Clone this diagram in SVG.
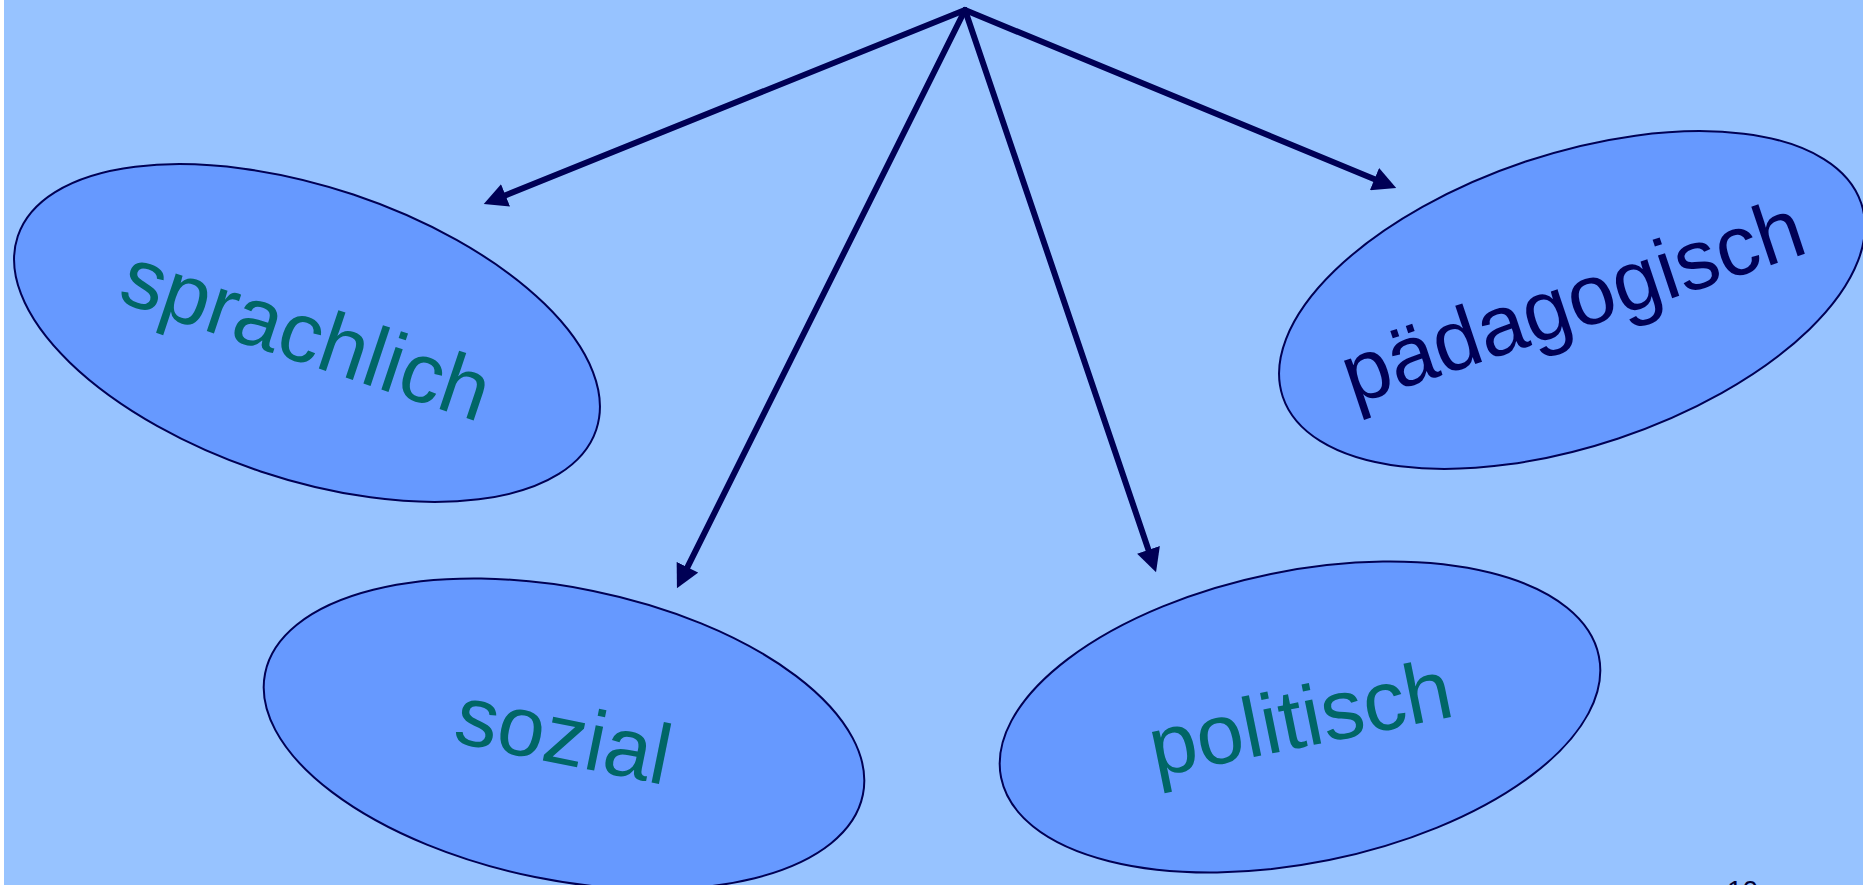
<svg xmlns="http://www.w3.org/2000/svg" width="1863" height="885" viewBox="0 0 1863 885">
  <style>
    .bg { fill: #97C3FF; }
    .node ellipse { fill: #6699FF; stroke: #000055; stroke-width: 2; }
    .node text { font-family: "Liberation Sans", Arial, sans-serif; font-size: 85px; text-anchor: middle; fill: #006666; }
    .node text.dark { fill: #000055; }
    .conn line { stroke: #000055; stroke-width: 6; stroke-linecap: round; marker-end: url(#arrow); }
    .pg { font-family: "Liberation Sans", Arial, sans-serif; font-size: 28px; fill: #000033; }
  </style>
  <defs>
    <marker id="arrow" markerUnits="userSpaceOnUse" markerWidth="24" markerHeight="24" viewBox="0 0 23 23.5" refX="11" refY="11.75" orient="auto">
      <path d="M0,0 L23,11.75 L0,23.5 z" fill="#000055"/>
    </marker>
  </defs>
  <rect x="0" y="0" width="1863" height="885" fill="#FFFFFF"/>
  <rect class="bg" x="4" y="0" width="1859" height="885"/>

  <g id="node-sprachlich" class="node" transform="translate(307,333) rotate(18.5)">
    <ellipse cx="0" cy="0" rx="305" ry="146"/>
    <text x="0" y="30">sprachlich</text>
  </g>
  <g id="node-sozial" class="node" transform="translate(564,734) rotate(11.5)">
    <ellipse cx="0" cy="0" rx="305" ry="146"/>
    <text x="0" y="30">sozial</text>
  </g>
  <g id="node-politisch" class="node" transform="translate(1300,717) rotate(-11.5)">
    <ellipse cx="0" cy="0" rx="305" ry="146"/>
    <text x="0" y="30">politisch</text>
  </g>
  <g id="node-paedagogisch" class="node" transform="translate(1572,300) rotate(-18.5)">
    <ellipse cx="0" cy="0" rx="305" ry="146"/>
    <text class="dark" x="0" y="30">pädagogisch</text>
  </g>

  <g id="connectors" class="conn">
    <line x1="965" y1="10" x2="495.1" y2="199.5"/>
    <line x1="965" y1="10" x2="682.4" y2="577.3"/>
    <line x1="965" y1="10" x2="1152.1" y2="560.6"/>
    <line x1="965" y1="10" x2="1384.9" y2="183.4"/>
  </g>

  <text class="pg" x="1727" y="900">10</text>
</svg>
